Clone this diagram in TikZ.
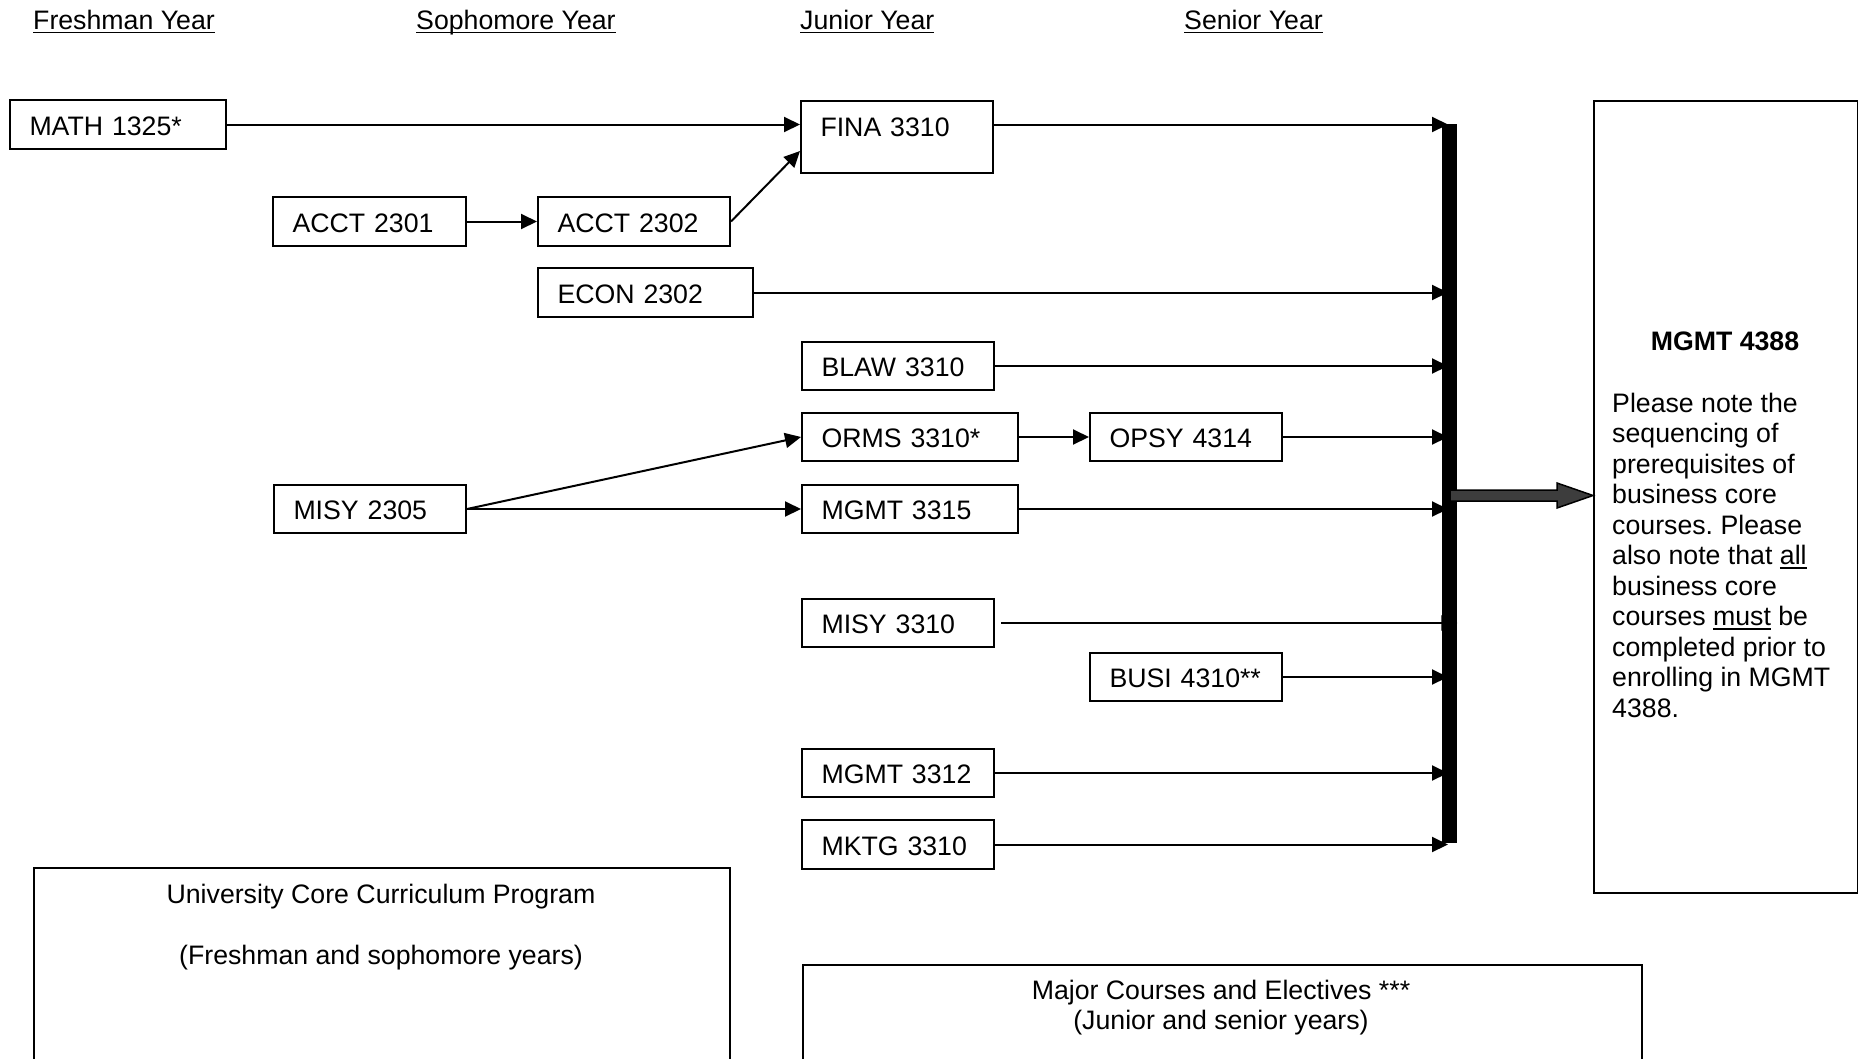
\documentclass[tikz,border=0pt]{standalone}
\usepackage{fontspec}
\setmainfont{Liberation Sans}
\usetikzlibrary{arrows.meta,calc}
\frenchspacing
\newcommand{\fnt}{\fontsize{26.7pt}{30.5pt}\selectfont}
\newcommand{\uln}[1]{\begingroup\setbox0=\hbox{#1}\rlap{\rule[-4.3pt]{\wd0}{1.8pt}}\box0\endgroup}
\begin{document}
\begin{tikzpicture}[x=1pt,y=-1pt,
  every node/.style={font=\fnt},
  course/.style={draw, line width=2pt, anchor=north west, inner xsep=19.5pt, inner ysep=0pt,
    align=left, text height=21pt, text depth=0pt, minimum height=48pt},
  link/.style={line width=2pt, -{Triangle[length=16pt,width=15pt]}},
  heading/.style={anchor=base west, inner sep=0pt},
  panel/.style={draw, line width=2pt, anchor=north west, inner sep=0pt},
  plain/.style={inner sep=0pt},
  bigarrow/.style={fill=black!76, draw=black, line width=1.5pt, line join=miter}
  ]
\useasboundingbox (0,0) rectangle (1858,1058);
\clip (0,0) rectangle (1858,1058);

% year headings
\node[heading] (hfr) at (33,29) {\uln{Freshman Year}};
\node[heading] (hso) at (416,29) {\uln{Sophomore Year}};
\node[heading] (hju) at (800,29) {\uln{Junior Year}};
\node[heading] (hse) at (1184,29) {\uln{Senior Year}};

% course boxes
\node[course, minimum width=216pt, minimum height=49pt, text width=177pt] (math) at (9,99) {MATH 1325*};
\node[course, minimum width=193pt, minimum height=49pt, text width=154pt] (acctA) at (272,196) {ACCT 2301};
\node[course, minimum width=192pt, minimum height=49pt, text width=153pt] (acctB) at (537,196) {ACCT 2302};
\node[course, minimum width=215pt, minimum height=49pt, text width=176pt] (econ) at (537,267) {ECON 2302};
\node[course, minimum width=192pt, minimum height=72pt, text width=153pt, text depth=23pt] (fina) at (800,100) {FINA 3310};
\node[course, minimum width=192pt, text width=153pt] (blaw) at (801,341) {BLAW 3310};
\node[course, minimum width=216pt, text width=177pt] (orms) at (801,412) {ORMS 3310*};
\node[course, minimum width=192pt, text width=153pt] (opsy) at (1089,412) {OPSY 4314};
\node[course, minimum width=192pt, text width=153pt] (misyA) at (273,484) {MISY 2305};
\node[course, minimum width=216pt, text width=177pt] (mgmtA) at (801,484) {MGMT 3315};
\node[course, minimum width=192pt, text width=153pt] (misyB) at (801,598) {MISY 3310};
\node[course, minimum width=192pt, text width=153pt] (busi) at (1089,652) {BUSI 4310**};
\node[course, minimum width=192pt, text width=153pt] (mgmtB) at (801,748) {MGMT 3312};
\node[course, minimum width=192pt, minimum height=49pt, text width=153pt] (mktg) at (801,819) {MKTG 3310};

% capstone box
\node[panel, minimum width=264pt, minimum height=792pt] (cap) at (1593,100) {};
\node[plain, anchor=base, font=\fnt\bfseries] (capt) at (1725,350) {MGMT 4388};
\node[plain, anchor=base west] (capp) at (1612,412) {\parbox[t]{244pt}{\raggedright
Please note the\\
sequencing of\\
prerequisites of\\
business core\\
courses. Please\\
also note that \uln{all}\\
business core\\
courses \uln{must} be\\
completed prior to\\
enrolling in MGMT\\
4388.}};

% bottom panels
\node[panel, minimum width=696pt, minimum height=300pt] (ucc) at (33,867) {};
\node[plain, anchor=base] (ucct) at (381,903) {\parbox[t]{680pt}{\centering
University Core Curriculum Program\\[30.5pt]
(Freshman and sophomore years)}};
\node[panel, minimum width=839pt, minimum height=300pt] (major) at (802,964) {};
\node[plain, anchor=base] (majt) at (1221,999) {\parbox[t]{820pt}{\centering
Major Courses and Electives ***\\
(Junior and senior years)}};

% collecting bar
\node[fill=black, inner sep=0pt, minimum width=15pt, minimum height=719pt, anchor=north west] (bar) at (1442,124) {};
\coordinate (barin) at ($(bar.north west)+(6,0)$);

% prerequisite links
\draw[link] (math.east) -- (math.east -| fina.west);
\draw[link] (acctA.east) -- (acctB.west);
\draw[link] (acctB.east) -- ($(fina.west)+(0,14)$);
\draw[link] (misyA.east) -- (orms.west);
\draw[link] (misyA.east) -- (mgmtA.west);
\draw[link] (orms.east) -- (orms.east -| opsy.west);

% links to the bar
\draw[link] (fina.east |- math.east) -- (barin |- math.east);
\draw[link] (econ.east) -- (barin |- econ.east);
\draw[link] (blaw.east) -- (barin |- blaw.east);
\draw[link] (opsy.east) -- (barin |- opsy.east);
\draw[link] (mgmtA.east) -- (barin |- mgmtA.east);
\draw[link] ($(misyB.east)+(6,0)$) -- (bar.east |- misyB.east);
\draw[link] (busi.east) -- (barin |- busi.east);
\draw[link] (mgmtB.east) -- (barin |- mgmtB.east);
\draw[link] (mktg.east) -- (barin |- mktg.east);

% redraw bar over arrow tips
\fill[black] (bar.north west) rectangle (bar.south east);

% big arrow to capstone
\coordinate (bigs) at (1450,495.5);
\coordinate (bigt) at (cap.west |- bigs);
\draw[bigarrow] ($(bigs)+(0,-5.5)$) -- ($(bigt)+(-36,-5.5)$) -- ($(bigt)+(-36,-12.5)$) -- (bigt)
  -- ($(bigt)+(-36,12.5)$) -- ($(bigt)+(-36,5.5)$) -- ($(bigs)+(0,5.5)$) -- cycle;
\end{tikzpicture}
\end{document}
